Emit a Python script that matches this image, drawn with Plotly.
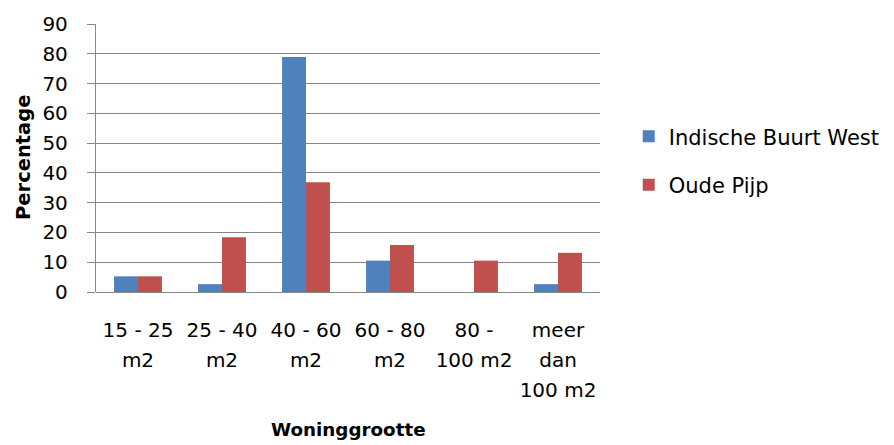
import plotly.graph_objects as go

categories = ["15 - 25<br>m2", "25 - 40<br>m2", "40 - 60<br>m2", "60 - 80<br>m2",
              "80 -<br>100 m2", "meer<br>dan<br>100 m2"]
indische_buurt_west = [5.26, 2.63, 78.95, 10.53, 0.0, 2.63]
oude_pijp = [5.26, 18.42, 36.84, 15.79, 10.53, 13.16]
y_ticks = [0, 10, 20, 30, 40, 50, 60, 70, 80, 90]

FONT = "DejaVu Sans"
GRID = "#868686"


def sized(label, px):
    # wrap each line so the text stays small while the line pitch follows the tick font
    return "<br>".join(f"<span style='font-size:{px}px'>{part}</span>" for part in label.split("<br>"))


tick_text = [sized(c, 20) for c in categories]

fig = go.Figure()
fig.add_trace(go.Bar(x=categories, y=indische_buurt_west, name="Indische Buurt West",
                     marker=dict(color="#4F81BD", line=dict(width=0)), legendgroup="a"))
fig.add_trace(go.Bar(x=categories, y=oude_pijp, name="Oude Pijp",
                     marker=dict(color="#C0504D", line=dict(width=0)), legendgroup="b"))

fig.update_layout(
    width=894, height=445,
    margin=dict(l=96, r=294, t=24, b=152.5, autoexpand=False),
    paper_bgcolor="white", plot_bgcolor="white",
    barmode="group", bargap=0.43, bargroupgap=0,
    font=dict(family=FONT, size=20, color="black"),
    legend=dict(x=1.057, y=0.49, xanchor="left", yanchor="middle",
                traceorder="grouped", tracegroupgap=18,
                font=dict(family=FONT, size=21), itemwidth=30),
    xaxis=dict(showgrid=False, showline=False, ticks="",
               tickmode="array", tickvals=categories, ticktext=tick_text,
               tickfont=dict(family=FONT, size=23), ticklabelstandoff=21),
    yaxis=dict(range=[0, 90], tickvals=y_ticks, showgrid=True, gridcolor=GRID,
               gridwidth=1.3, zeroline=True, zerolinecolor=GRID, zerolinewidth=1.3,
               showline=True, linecolor=GRID, linewidth=1.3,
               ticks="outside", ticklen=8, tickcolor=GRID, tickwidth=1.3,
               tickfont=dict(family=FONT, size=20), ticklabelstandoff=15),
    annotations=[
        dict(text="<b>Percentage</b>", textangle=-90, xref="paper", yref="paper",
             x=(23 - 96) / 504, y=0.5, xanchor="center", yanchor="middle", showarrow=False,
             font=dict(family=FONT, size=19.5)),
        dict(text="<b>Woninggrootte</b>", xref="paper", yref="paper",
             x=0.5, y=-(430 - 292.5) / 268.5, xanchor="center", yanchor="middle",
             showarrow=False, font=dict(family=FONT, size=18.3)),
    ],
)

fig.write_html("out.html")
